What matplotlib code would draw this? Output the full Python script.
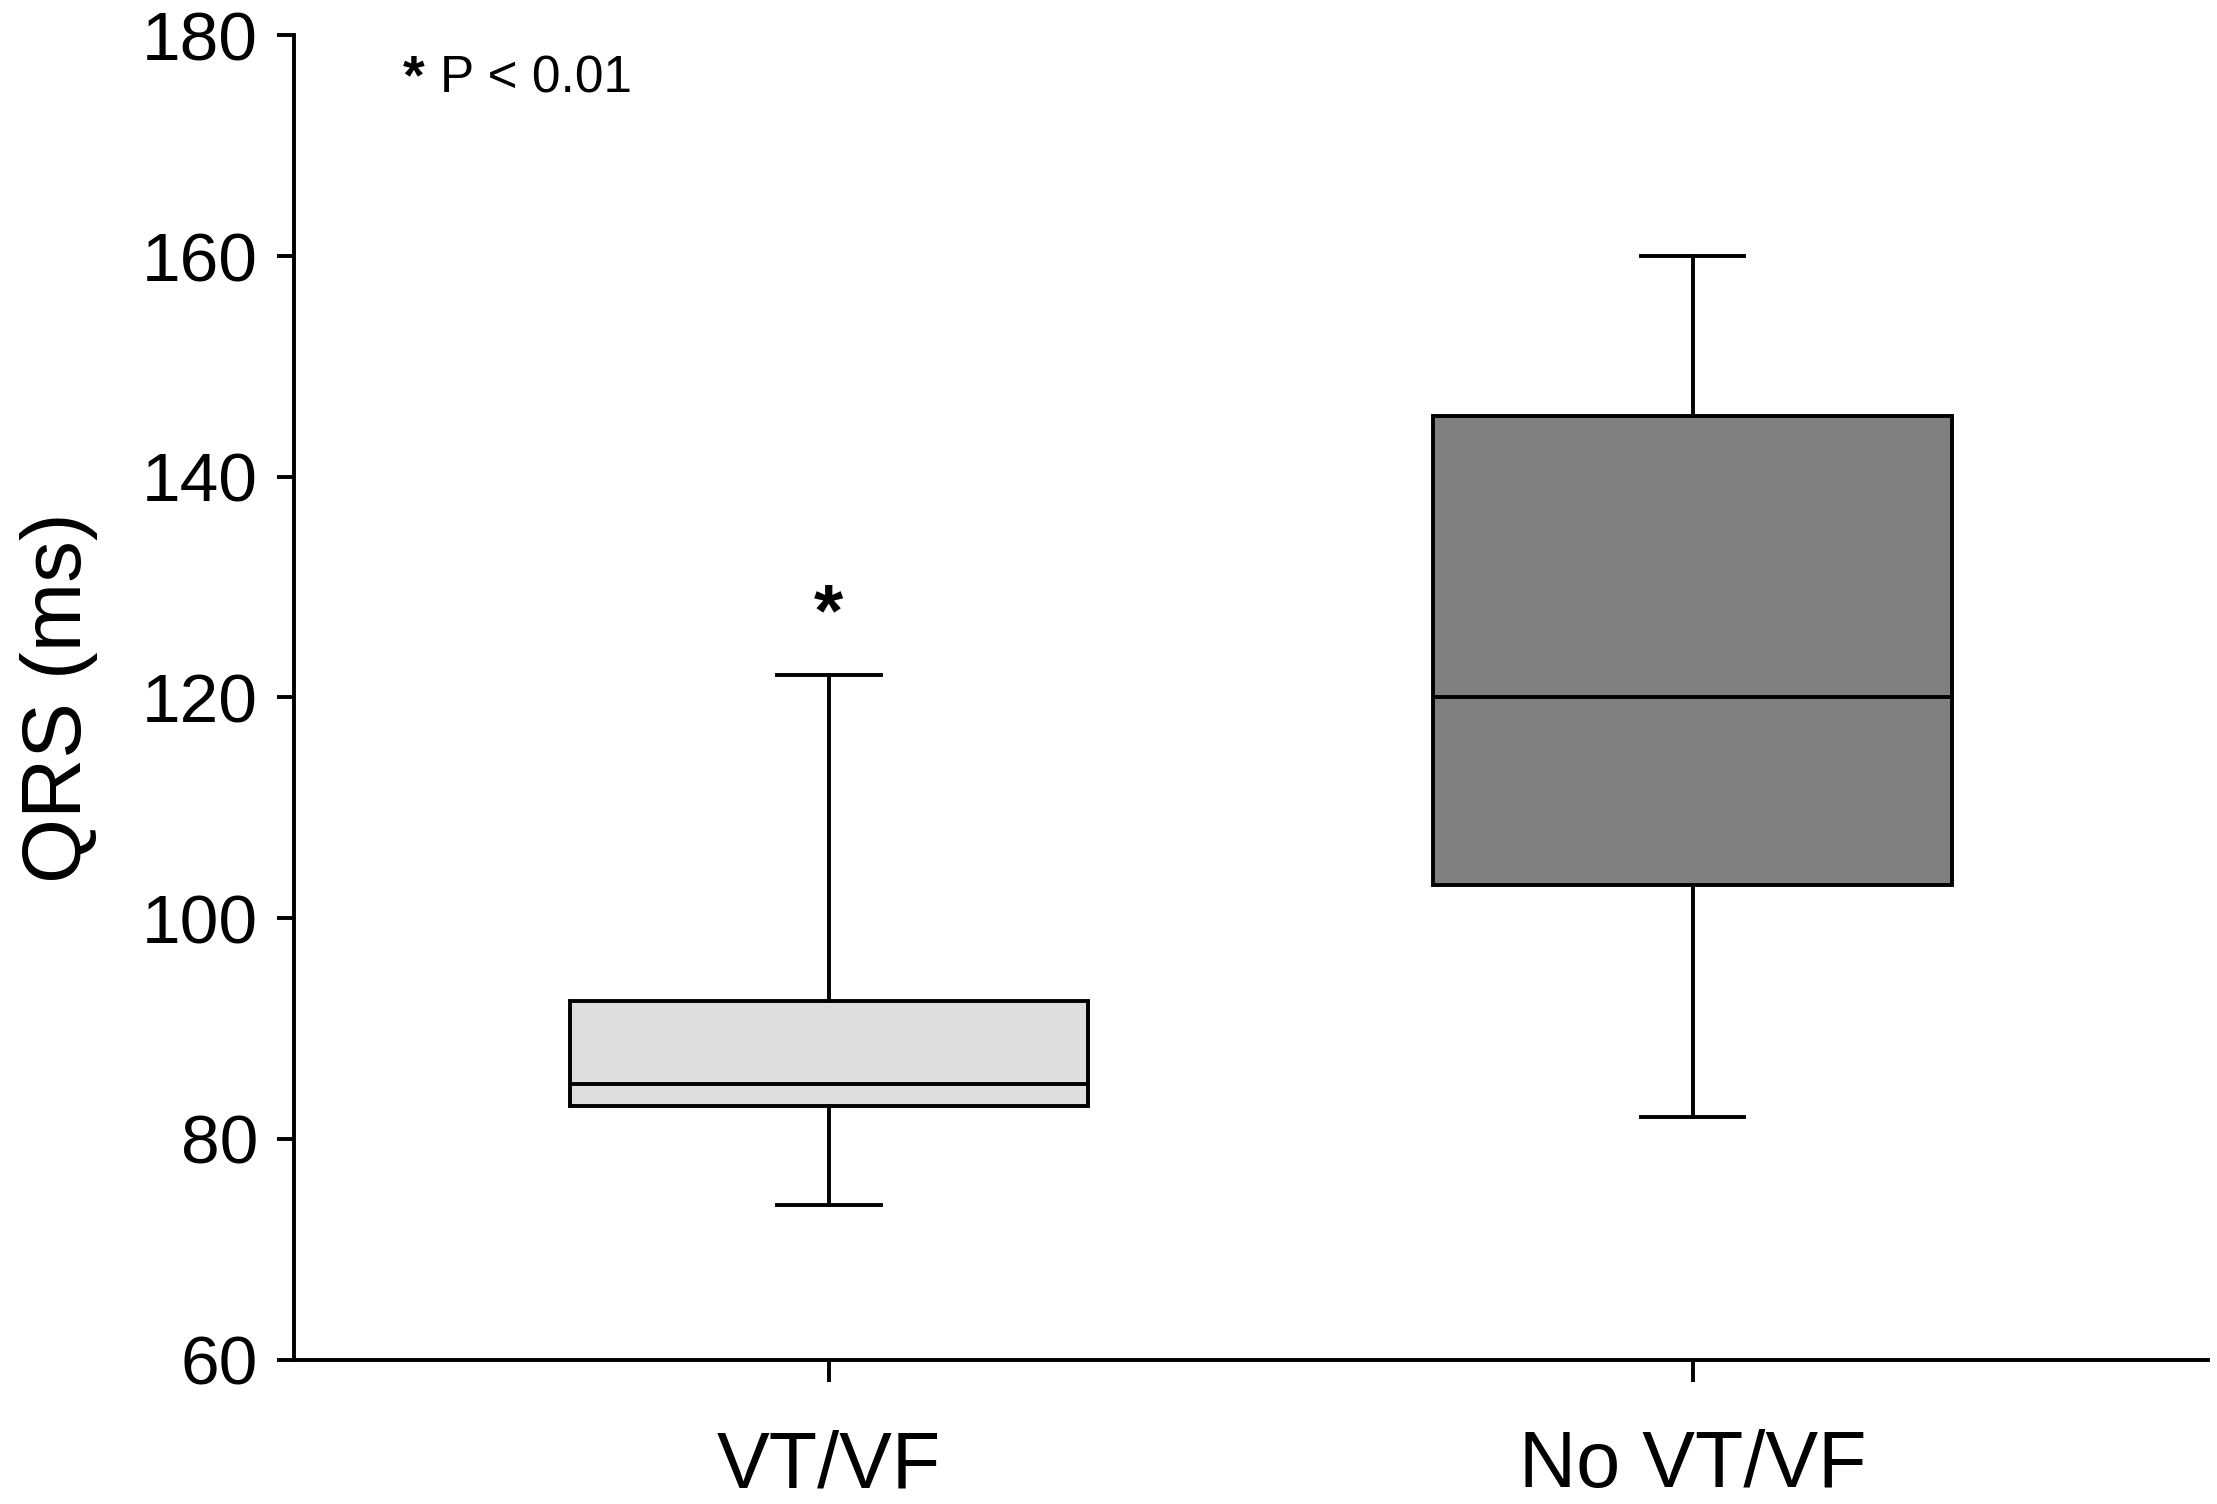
import matplotlib
matplotlib.use("Agg")
import matplotlib.pyplot as plt

plt.rcParams['font.family'] = ['Liberation Sans', 'DejaVu Sans']

categories = ["VT/VF", "No VT/VF"]
whisker_low = [74, 82]
q1 = [83, 103]
median = [85, 120]
q3 = [92.5, 145.5]
whisker_high = [122, 160]
box_colors = ["#dedede", "#808080"]
yticks = [60, 80, 100, 120, 140, 160, 180]

fig = plt.figure(figsize=(22.17, 15.04), dpi=100)
ax = fig.add_axes([0.1327, 0.096, 0.8633, 0.8805])

stats = []
for i, c in enumerate(categories):
    stats.append(dict(label=c, whislo=whisker_low[i], q1=q1[i], med=median[i],
                      q3=q3[i], whishi=whisker_high[i], fliers=[]))
positions = [1, 2]
lw = 2.8
bp = ax.bxp(stats, positions=positions, widths=0.6, patch_artist=True,
            showfliers=False, capwidths=0.12,
            boxprops=dict(linewidth=lw, edgecolor='black'),
            medianprops=dict(color='black', linewidth=lw),
            whiskerprops=dict(color='black', linewidth=lw),
            capprops=dict(color='black', linewidth=lw))
for patch, col in zip(bp['boxes'], box_colors):
    patch.set_facecolor(col)

ax.set_xlim(0.381, 2.597)
ax.set_ylim(60, 180)
ax.set_yticks(yticks)
ax.set_xticks(positions)
ax.set_xticklabels(categories, fontsize=57)
ax.tick_params(axis='y', labelsize=50, length=12, width=lw, pad=14)
ax.tick_params(axis='x', length=16, width=lw, pad=34)
ax.spines['top'].set_visible(False)
ax.spines['right'].set_visible(False)
ax.spines['left'].set_linewidth(lw)
ax.spines['bottom'].set_linewidth(lw)
ax.set_ylabel("QRS (ms)", fontsize=60, labelpad=32)

ax.text(1, 125.6, "*", fontsize=54, fontweight='bold', ha='center', va='baseline')
ax.text(0.507, 176.0, "*", fontsize=40, fontweight='bold', ha='left', va='center')
ax.text(0.55, 176.0, "P < 0.01", fontsize=37, ha='left', va='center')

fig.savefig("out.png", dpi=100)
